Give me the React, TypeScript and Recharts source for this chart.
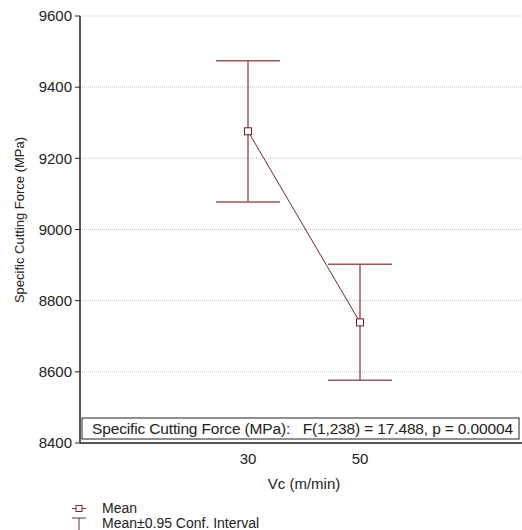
import React from "react";
import {
  ComposedChart,
  Line,
  XAxis,
  YAxis,
  CartesianGrid,
  ErrorBar,
  Legend,
  Customized,
} from "recharts";

const categories = ["30", "50"];
const positions = [2, 3];
const means = [9276, 8739];
const ciLow = [9077, 8576];
const ciHigh = [9474, 8902];
const yTicks = [8400, 8600, 8800, 9000, 9200, 9400, 9600];
const xTicks = [1, 2, 3, 4];
const annotation = "Specific Cutting Force (MPa):   F(1,238) = 17.488, p = 0.00004";

const data = categories.map((c, i) => ({
  x: positions[i],
  label: c,
  mean: means[i],
  err: [means[i] - ciLow[i], ciHigh[i] - means[i]],
}));

const FONT = "'Liberation Sans', Arial, sans-serif";
const LINE = "#7a2a2a";
const WHISK = "#9a5a5a";

const xLabel = (v: number) => {
  const i = positions.indexOf(v);
  return i >= 0 ? categories[i] : "";
};

const SquareDot = (props: any) => {
  const { cx, cy } = props;
  if (cx == null || cy == null) return null;
  return (
    <rect x={cx - 3.5} y={cy - 3.5} width={7} height={7} fill="#fff" stroke="#6b2020" strokeWidth={1} />
  );
};

const Annotation = (props: any) => {
  const off = props.offset || {};
  const left = off.left ?? 80;
  const top = off.top ?? 16;
  const h = off.height ?? 427;
  const boxY = top + h - 25;
  return (
    <g>
      <rect x={left + 2} y={boxY} width={437} height={21} fill="#fff" stroke="#222" strokeWidth={1} />
      <text
        x={left + 12}
        y={boxY + 16}
        fontFamily={FONT}
        fontSize={15.5}
        fill="#222"
        xmlSpace="preserve"
        textLength={421}
        lengthAdjust="spacing"
        style={{ whiteSpace: "pre" }}
      >
        {annotation}
      </text>
    </g>
  );
};

const YLabel = () => (
  <text
    x={19}
    y={220}
    transform="rotate(-90 19 220)"
    textAnchor="middle"
    dominantBaseline="central"
    fontFamily={FONT}
    fontSize={13}
    fill="#222"
  >
    Specific Cutting Force (MPa)
  </text>
);

const LegendContent = () => (
  <div style={{ fontFamily: FONT, fontSize: 14, color: "#222", lineHeight: "15px" }}>
    <div style={{ display: "flex", alignItems: "center", height: 15 }}>
      <svg width={31} height={15} style={{ display: "block" }}>
        <line x1={1} y1={7.5} x2={15} y2={7.5} stroke={LINE} strokeWidth={1} />
        <rect x={5} y={4.5} width={6} height={6} fill="#fff" stroke={LINE} />
      </svg>
      <span>Mean</span>
    </div>
    <div style={{ display: "flex", alignItems: "center", height: 15 }}>
      <svg width={31} height={15} style={{ display: "block" }}>
        <line x1={1} y1={2} x2={15} y2={2} stroke={LINE} strokeWidth={1} />
        <line x1={8} y1={2} x2={8} y2={15} stroke={LINE} strokeWidth={1} />
      </svg>
      <span>Mean±0.95 Conf. Interval</span>
    </div>
  </div>
);

export default function App() {
  return (
    <div style={{ position: "absolute", left: 0, top: 0, width: 522, height: 530, overflow: "hidden", background: "#fff" }}>
      <ComposedChart
        width={540}
        height={530}
        data={data}
        margin={{ top: 16, right: 12, left: 0, bottom: 0 }}
      >
        <CartesianGrid
          xAxisId="main"
          yAxisId="main"
          horizontal
          vertical={false}
          stroke="#c4c4c4"
          strokeDasharray="1 1"
        />
        <XAxis
          xAxisId="main"
          dataKey="x"
          type="number"
          domain={[0.5, 4.5]}
          ticks={xTicks}
          tickFormatter={xLabel}
          height={87}
          tickLine={false}
          axisLine={{ stroke: "#222", strokeWidth: 1.5 }}
          tick={{ fontFamily: FONT, fontSize: 15, fill: "#222" }}
          tickMargin={4}
          label={{ value: "Vc (m/min)", position: "insideTop", offset: 35, fontFamily: FONT, fontSize: 15, fill: "#222" }}
        />
        <XAxis
          xAxisId="top"
          orientation="top"
          dataKey="x"
          type="number"
          domain={[0.5, 4.5]}
          ticks={xTicks}
          tickFormatter={() => ""}
          height={0}
          mirror
          tickSize={4}
          tickLine={{ stroke: "#222" }}
          axisLine={{ stroke: "#222", strokeWidth: 1.5 }}
        />
        <YAxis
          yAxisId="main"
          type="number"
          domain={[8400, 9600]}
          ticks={yTicks}
          width={80}
          tickSize={5}
          tickLine={{ stroke: "#222" }}
          axisLine={{ stroke: "#222", strokeWidth: 1.5 }}
          tick={{ fontFamily: FONT, fontSize: 15, fill: "#222" }}
          tickMargin={3}
          label={<YLabel />}
        />
        <Line
          xAxisId="main"
          yAxisId="main"
          dataKey="mean"
          stroke={LINE}
          strokeWidth={1}
          dot={<SquareDot />}
          activeDot={false}
          isAnimationActive={false}
        >
          <ErrorBar dataKey="err" width={32} stroke={WHISK} strokeWidth={1.5} direction="y" isAnimationActive={false} />
        </Line>
        <Customized component={Annotation} />
        <Legend
          layout="horizontal"
          verticalAlign="middle"
          align="center"
          content={<LegendContent />}
          wrapperStyle={{ position: "absolute", left: 71, top: 501, width: 300, height: 30 }}
        />
      </ComposedChart>
    </div>
  );
}
